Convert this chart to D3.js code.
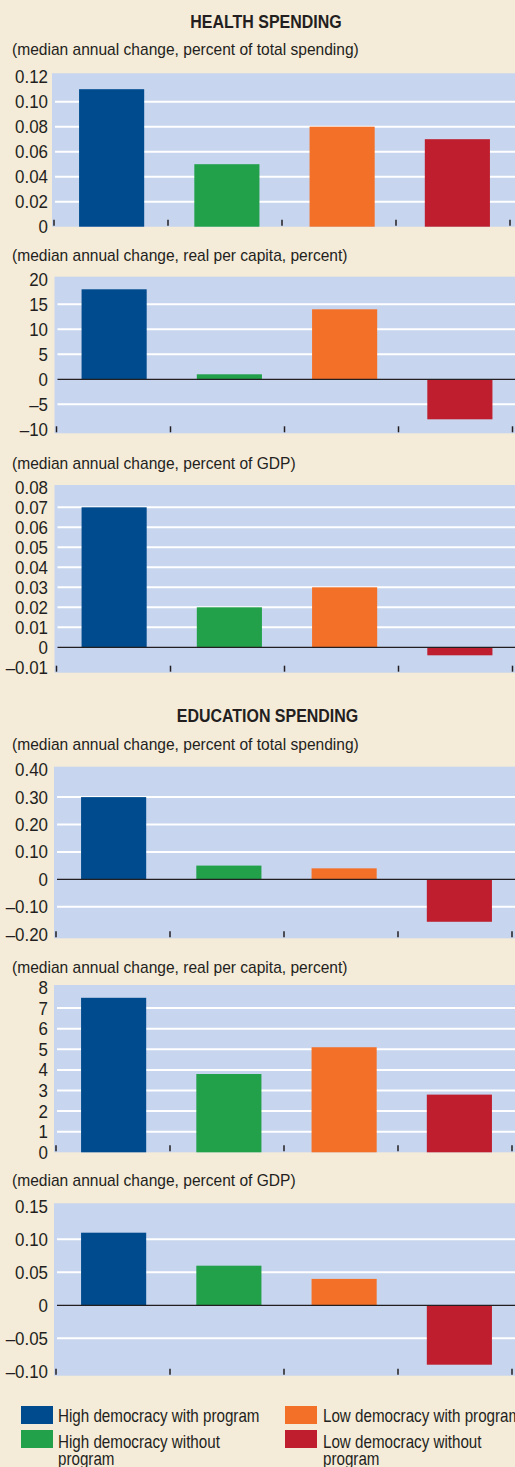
<!DOCTYPE html>
<html>
<head>
<meta charset="utf-8">
<script src="https://cdn.jsdelivr.net/npm/d3@7"></script>
<style>
  html, body { margin: 0; padding: 0; background: #f5ebd9; }
  svg { display: block; }
  text { font-family: "Liberation Sans", Arial, sans-serif; fill: #231f20; }
</style>
</head>
<body>
<svg id="chart" width="515" height="1467"></svg>
<script>
// ---------- DATA ----------
const categories = [
  "High democracy with program",
  "High democracy without program",
  "Low democracy with program",
  "Low democracy without program"
];
const seriesColors = ["#004b8d", "#22a04a", "#f37029", "#be1e2d"];

const sectionTitles = ["HEALTH SPENDING", "EDUCATION SPENDING"];
const subtitles = [
  "(median annual change, percent of total spending)",
  "(median annual change, real per capita, percent)",
  "(median annual change, percent of GDP)",
  "(median annual change, percent of total spending)",
  "(median annual change, real per capita, percent)",
  "(median annual change, percent of GDP)"
];

const healthTotal  = [0.11, 0.05, 0.08, 0.07];
const healthRealPC = [18, 1, 14, -8];
const healthGDP    = [0.07, 0.02, 0.03, -0.004];
const eduTotal     = [0.30, 0.05, 0.04, -0.155];
const eduRealPC    = [7.5, 3.8, 5.1, 2.8];
const eduGDP       = [0.11, 0.06, 0.04, -0.09];

const ticks1 = [0, 0.02, 0.04, 0.06, 0.08, 0.10, 0.12];
const labels1 = ["0", "0.02", "0.04", "0.06", "0.08", "0.10", "0.12"];
const ticks2 = [-10, -5, 0, 5, 10, 15, 20];
const labels2 = ["\u201310", "\u20135", "0", "5", "10", "15", "20"];
const ticks3 = [-0.01, 0, 0.01, 0.02, 0.03, 0.04, 0.05, 0.06, 0.07, 0.08];
const labels3 = ["\u20130.01", "0", "0.01", "0.02", "0.03", "0.04", "0.05", "0.06", "0.07", "0.08"];
const ticks4 = [-0.2, -0.1, 0, 0.1, 0.2, 0.3, 0.4];
const labels4 = ["\u20130.20", "\u20130.10", "0", "0.10", "0.20", "0.30", "0.40"];
const ticks5 = [0, 1, 2, 3, 4, 5, 6, 7, 8];
const labels5 = ["0", "1", "2", "3", "4", "5", "6", "7", "8"];
const ticks6 = [-0.10, -0.05, 0, 0.05, 0.10, 0.15];
const labels6 = ["\u20130.10", "\u20130.05", "0", "0.05", "0.10", "0.15"];

// ---------- HELPERS ----------
function condense(sel, f) {
  sel.each(function () {
    const w = this.getComputedTextLength();
    this.setAttribute("textLength", (w * f).toFixed(2));
    this.setAttribute("lengthAdjust", "spacingAndGlyphs");
  });
}

// ---------- LAYOUT ----------
const svg = d3.select("#chart");
svg.append("rect").attr("width", 515).attr("height", 1467).attr("fill", "#f5ebd9");

const panels = [
  { values: healthTotal,  ticks: ticks1, labels: labels1, sub: subtitles[0], subY: 55,  yTopTick: 76.7,  yBotTick: 226.7, rectTop: 73.3,  rectBot: 226.7, dx: -2 },
  { values: healthRealPC, ticks: ticks2, labels: labels2, sub: subtitles[1], subY: 261, yTopTick: 279.3, yBotTick: 429.3, rectTop: 276.7, rectBot: 433.3, dx: 0.5 },
  { values: healthGDP,    ticks: ticks3, labels: labels3, sub: subtitles[2], subY: 469, yTopTick: 487.3, yBotTick: 667.3, rectTop: 485,   rectBot: 672.7, dx: 0.5 },
  { values: eduTotal,     ticks: ticks4, labels: labels4, sub: subtitles[3], subY: 750, yTopTick: 769.7, yBotTick: 934.1, rectTop: 766.7, rectBot: 938.3, dx: 0 },
  { values: eduRealPC,    ticks: ticks5, labels: labels5, sub: subtitles[4], subY: 973, yTopTick: 987.5, yBotTick: 1152.3, rectTop: 985,  rectBot: 1152.3, dx: 0 },
  { values: eduGDP,       ticks: ticks6, labels: labels6, sub: subtitles[5], subY: 1186, yTopTick: 1206.3, yBotTick: 1371.3, rectTop: 1203.3, rectBot: 1375.7, dx: 0 }
];

// section titles
const titles = svg.append("g");
titles.append("text").attr("x", 266).attr("y", 28).attr("text-anchor", "middle")
  .style("font-weight", "bold").style("font-size", "19px").text(sectionTitles[0]);
titles.append("text").attr("x", 267.5).attr("y", 721.5).attr("text-anchor", "middle")
  .style("font-weight", "bold").style("font-size", "19px").text(sectionTitles[1]);
condense(titles.selectAll("text"), 0.84);

panels.forEach(p => {
  const g = svg.append("g");
  const left = 54 + p.dx;
  const right = 515;

  const y = d3.scaleLinear()
    .domain([d3.min(p.ticks), d3.max(p.ticks)])
    .range([p.yBotTick, p.yTopTick]);

  const x = d3.scaleBand()
    .domain(d3.range(categories.length))
    .range([56 + p.dx, 517 + p.dx])
    .paddingInner(0.435)
    .paddingOuter(0.2175);

  const xt = d3.scaleLinear().domain([0, categories.length]).range([56 + p.dx, 512 + p.dx]);

  // subtitle
  const st = g.append("text").attr("x", 12).attr("y", p.subY).style("font-size", "17px").text(p.sub);
  condense(st, 0.915);

  // plot bg
  g.append("rect").attr("x", left).attr("y", p.rectTop)
    .attr("width", right - left).attr("height", p.rectBot - p.rectTop)
    .attr("fill", "#c7d5ee");

  const yMin = d3.min(p.ticks), yMax = d3.max(p.ticks);

  // gridlines
  g.selectAll("line.grid")
    .data(p.ticks.filter(t => t !== yMin && t !== yMax && t !== 0))
    .join("line")
    .attr("x1", left + 3).attr("x2", right)
    .attr("y1", d => y(d)).attr("y2", d => y(d))
    .attr("stroke", "#ffffff").attr("stroke-width", 2);

  // bars
  g.selectAll("rect.bar")
    .data(p.values)
    .join("rect")
    .attr("x", (d, i) => x(i))
    .attr("width", x.bandwidth())
    .attr("y", d => y(Math.max(0, d)))
    .attr("height", d => Math.abs(y(d) - y(0)))
    .attr("fill", (d, i) => seriesColors[i]);

  // zero line
  if (yMin < 0) {
    g.append("line")
      .attr("x1", left + 3).attr("x2", right)
      .attr("y1", y(0)).attr("y2", y(0))
      .attr("stroke", "#231f20").attr("stroke-width", 1.3);
  }

  // y axis labels
  const axis = d3.axisLeft(y)
    .tickValues(p.ticks)
    .tickFormat((d, i) => p.labels[i])
    .tickSize(0).tickPadding(0);
  const ag = g.append("g").attr("transform", `translate(${48},0)`).call(axis);
  ag.select(".domain").remove();
  ag.selectAll("text").style("font-size", "19px").attr("fill", "#231f20")
    .style("font-family", '"Liberation Sans", Arial, sans-serif');
  condense(ag.selectAll("text"), 0.89);

  // x category ticks
  g.selectAll("line.xtick")
    .data(d3.range(categories.length + 1))
    .join("line")
    .attr("x1", d => xt(d)).attr("x2", d => xt(d))
    .attr("y1", p.rectBot - 7).attr("y2", p.rectBot - 1)
    .attr("stroke", "#231f20").attr("stroke-width", 1.5);
});

// ---------- LEGEND ----------
const legendPos = [
  { sx: 21, sy: 1406, tx: 58, by: 1422, lines: ["High democracy with program"] },
  { sx: 21, sy: 1430, tx: 58, by: 1448, lines: ["High democracy without", "program"] },
  { sx: 285, sy: 1406, tx: 323, by: 1422, lines: ["Low democracy with program"] },
  { sx: 285, sy: 1430, tx: 323, by: 1448, lines: ["Low democracy without", "program"] }
];
const lg = svg.append("g");
categories.forEach((c, ci) => {
  const lp = legendPos[ci];
  lg.append("rect").attr("x", lp.sx).attr("y", lp.sy).attr("width", 32).attr("height", 18)
    .attr("fill", seriesColors[ci]);
  lp.lines.forEach((ln, j) => {
    lg.append("text").attr("class", "ltext")
      .attr("x", lp.tx).attr("y", lp.by + j * 17)
      .style("font-size", "18.5px").text(ln);
  });
});
condense(lg.selectAll("text.ltext"), 0.82);
</script>
</body>
</html>
